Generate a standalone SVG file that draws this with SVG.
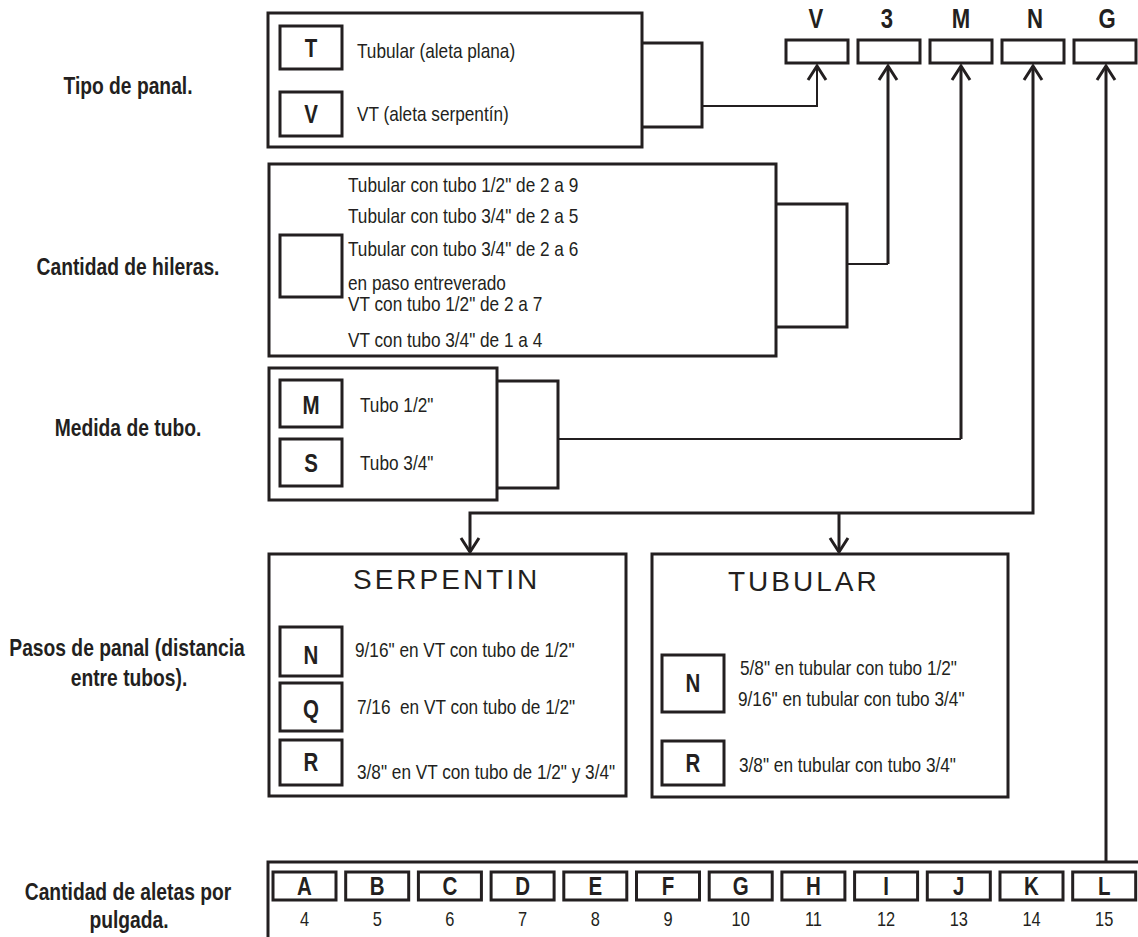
<svg xmlns="http://www.w3.org/2000/svg" width="1138" height="937" viewBox="0 0 1138 937">
<style>
.bx{fill:none;stroke:#231f20;stroke-width:3}
.ln{fill:none;stroke:#231f20;stroke-width:3}
.tn{fill:none;stroke:#231f20;stroke-width:2}
.t{font-family:"Liberation Sans",Arial,sans-serif;font-size:21px;fill:#231f20}
.lb{font-family:"Liberation Sans",Arial,sans-serif;font-size:23.5px;font-weight:bold;fill:#231f20;text-anchor:middle}
.k{font-family:"Liberation Sans",Arial,sans-serif;font-size:25px;font-weight:bold;fill:#231f20;text-anchor:middle}
.top{font-family:"Liberation Sans",Arial,sans-serif;font-size:27px;font-weight:bold;fill:#231f20;text-anchor:middle}
.ttl{font-family:"Liberation Sans",Arial,sans-serif;font-size:28px;letter-spacing:3px;fill:#231f20}
.num{font-family:"Liberation Sans",Arial,sans-serif;font-size:20px;fill:#231f20;text-anchor:middle}
</style>
<rect width="1138" height="937" fill="#fff"/>

<g id="labels">
<text class="lb" transform="translate(128 94) scale(.82 1)">Tipo de panal.</text>
<text class="lb" transform="translate(128 275) scale(.82 1)">Cantidad de hileras.</text>
<text class="lb" transform="translate(128 436) scale(.82 1)">Medida de tubo.</text>
<text class="lb" transform="translate(127 656) scale(.82 1)">Pasos de panal (distancia</text>
<text class="lb" transform="translate(129 686) scale(.82 1)">entre tubos).</text>
<text class="lb" transform="translate(128 900) scale(.82 1)">Cantidad de aletas por</text>
<text class="lb" transform="translate(129 928) scale(.82 1)">pulgada.</text>
</g>

<g id="code">
<rect class="bx" x="786" y="40" width="62" height="23"/>
<rect class="bx" x="858" y="40" width="62" height="23"/>
<rect class="bx" x="930" y="40" width="62" height="23"/>
<rect class="bx" x="1002" y="40" width="62" height="23"/>
<rect class="bx" x="1074" y="40" width="62" height="23"/>
<text class="top" transform="translate(816 28) scale(.82 1)">V</text>
<text class="top" transform="translate(887 28) scale(.82 1)">3</text>
<text class="top" transform="translate(961 28) scale(.82 1)">M</text>
<text class="top" transform="translate(1035 28) scale(.82 1)">N</text>
<text class="top" transform="translate(1107 28) scale(.82 1)">G</text>
</g>

<g id="tipo">
<rect class="bx" x="268" y="13" width="374" height="134"/>
<rect class="bx" x="280" y="26" width="62" height="43"/>
<rect class="bx" x="280" y="92" width="62" height="44"/>
<text class="k" transform="translate(311 57) scale(.82 1)">T</text>
<text class="k" transform="translate(311 123) scale(.82 1)">V</text>
<text class="t" transform="translate(357 58) scale(.82 1)">Tubular (aleta plana)</text>
<text class="t" transform="translate(357 121) scale(.82 1)">VT (aleta serpentín)</text>
</g>

<g id="hileras">
<rect class="bx" x="269" y="164" width="507" height="192"/>
<rect class="bx" x="280" y="235" width="62" height="62"/>
<text class="t" transform="translate(348 192) scale(.82 1)">Tubular con tubo 1/2" de 2 a 9</text>
<text class="t" transform="translate(348 223) scale(.82 1)">Tubular con tubo 3/4" de 2 a 5</text>
<text class="t" transform="translate(348 256) scale(.82 1)">Tubular con tubo 3/4" de 2 a 6</text>
<text class="t" transform="translate(348 290) scale(.82 1)">en paso entreverado</text>
<text class="t" transform="translate(348 311) scale(.82 1)">VT con tubo 1/2" de 2 a 7</text>
<text class="t" transform="translate(348 347) scale(.82 1)">VT con tubo 3/4" de 1 a 4</text>
</g>

<g id="medida">
<rect class="bx" x="269" y="368" width="228" height="132"/>
<rect class="bx" x="280" y="380" width="62" height="47"/>
<rect class="bx" x="280" y="439" width="62" height="47"/>
<text class="k" transform="translate(311 414) scale(.82 1)">M</text>
<text class="k" transform="translate(311 472) scale(.82 1)">S</text>
<text class="t" transform="translate(360 412) scale(.82 1)">Tubo 1/2"</text>
<text class="t" transform="translate(360 470) scale(.82 1)">Tubo 3/4"</text>
</g>

<g id="serpentin">
<rect class="bx" x="269" y="554" width="357" height="242"/>
<text class="ttl" x="353" y="589">SERPENTIN</text>
<rect class="bx" x="280" y="627" width="62" height="49"/>
<rect class="bx" x="280" y="683" width="62" height="48"/>
<rect class="bx" x="280" y="740" width="62" height="45"/>
<text class="k" transform="translate(311 664) scale(.82 1)">N</text>
<text class="k" transform="translate(311 718) scale(.82 1)">Q</text>
<text class="k" transform="translate(311 771) scale(.82 1)">R</text>
<text class="t" transform="translate(355 657) scale(.82 1)">9/16" en VT con tubo de 1/2"</text>
<text class="t" transform="translate(357 714) scale(.82 1)" xml:space="preserve">7/16  en VT con tubo de 1/2"</text>
<text class="t" transform="translate(357 779) scale(.82 1)">3/8" en VT con tubo de 1/2" y 3/4"</text>
</g>

<g id="tubular">
<rect class="bx" x="652" y="554" width="356" height="243"/>
<text class="ttl" x="728" y="591">TUBULAR</text>
<rect class="bx" x="662" y="655" width="62" height="57"/>
<rect class="bx" x="662" y="741" width="62" height="44"/>
<text class="k" transform="translate(693 692) scale(.82 1)">N</text>
<text class="k" transform="translate(693 772) scale(.82 1)">R</text>
<text class="t" transform="translate(740 675) scale(.82 1)">5/8" en tubular con tubo 1/2"</text>
<text class="t" transform="translate(738 706) scale(.82 1)">9/16" en tubular con tubo 3/4"</text>
<text class="t" transform="translate(739 772) scale(.82 1)">3/8" en tubular con tubo 3/4"</text>
</g>

<g id="aletas">
<rect class="bx" x="268" y="862" width="880" height="100"/>
<rect class="bx" x="273" y="872" width="63" height="28"/>
<rect class="bx" x="345.7" y="872" width="63" height="28"/>
<rect class="bx" x="418.4" y="872" width="63" height="28"/>
<rect class="bx" x="491.1" y="872" width="63" height="28"/>
<rect class="bx" x="563.8" y="872" width="63" height="28"/>
<rect class="bx" x="636.5" y="872" width="63" height="28"/>
<rect class="bx" x="709.2" y="872" width="63" height="28"/>
<rect class="bx" x="781.9" y="872" width="63" height="28"/>
<rect class="bx" x="854.6" y="872" width="63" height="28"/>
<rect class="bx" x="927.3" y="872" width="63" height="28"/>
<rect class="bx" x="1000" y="872" width="63" height="28"/>
<rect class="bx" x="1072.7" y="872" width="63" height="28"/>
<text class="k" transform="translate(304.5 895) scale(.82 1)">A</text>
<text class="k" transform="translate(377.2 895) scale(.82 1)">B</text>
<text class="k" transform="translate(449.9 895) scale(.82 1)">C</text>
<text class="k" transform="translate(522.6 895) scale(.82 1)">D</text>
<text class="k" transform="translate(595.3 895) scale(.82 1)">E</text>
<text class="k" transform="translate(668 895) scale(.82 1)">F</text>
<text class="k" transform="translate(740.7 895) scale(.82 1)">G</text>
<text class="k" transform="translate(813.4 895) scale(.82 1)">H</text>
<text class="k" transform="translate(886.1 895) scale(.82 1)">I</text>
<text class="k" transform="translate(958.8 895) scale(.82 1)">J</text>
<text class="k" transform="translate(1031.5 895) scale(.82 1)">K</text>
<text class="k" transform="translate(1104.2 895) scale(.82 1)">L</text>
<text class="num" transform="translate(304.5 926) scale(.82 1)">4</text>
<text class="num" transform="translate(377.2 926) scale(.82 1)">5</text>
<text class="num" transform="translate(449.9 926) scale(.82 1)">6</text>
<text class="num" transform="translate(522.6 926) scale(.82 1)">7</text>
<text class="num" transform="translate(595.3 926) scale(.82 1)">8</text>
<text class="num" transform="translate(668 926) scale(.82 1)">9</text>
<text class="num" transform="translate(740.7 926) scale(.82 1)">10</text>
<text class="num" transform="translate(813.4 926) scale(.82 1)">11</text>
<text class="num" transform="translate(886.1 926) scale(.82 1)">12</text>
<text class="num" transform="translate(958.8 926) scale(.82 1)">13</text>
<text class="num" transform="translate(1031.5 926) scale(.82 1)">14</text>
<text class="num" transform="translate(1104.2 926) scale(.82 1)">15</text>
</g>

<g id="connectors">
<path class="ln" d="M642 43H702V127H642"/>
<path class="tn" d="M702 106H817V66"/>
<path class="ln" d="M808 80L817 66L826 80"/>
<path class="ln" d="M776 204H847V327H776"/>
<path class="tn" d="M847 264H888"/>
<path class="ln" d="M888 264V66"/>
<path class="ln" d="M879 80L888 66L897 80"/>
<path class="ln" d="M497 381H558V488H497"/>
<path class="tn" d="M558 439H961"/>
<path class="ln" d="M961 439V66"/>
<path class="ln" d="M952 80L961 66L970 80"/>
<path class="ln" d="M1033 66V513H470V552"/>
<path class="ln" d="M1024 80L1033 66L1042 80"/>
<path class="ln" d="M461 538L470 552L479 538"/>
<path class="ln" d="M839 513V552"/>
<path class="ln" d="M830 538L839 552L848 538"/>
<path class="ln" d="M1106 66V862"/>
<path class="ln" d="M1097 80L1106 66L1115 80"/>
</g>
</svg>
